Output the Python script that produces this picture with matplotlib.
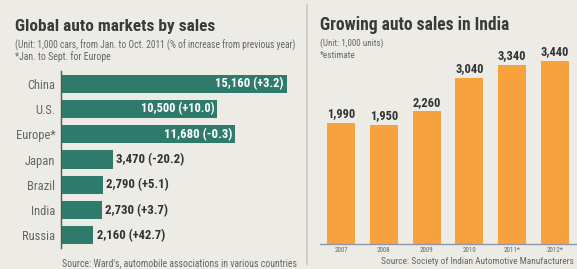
import matplotlib
matplotlib.use("Agg")
import matplotlib.pyplot as plt
from matplotlib import font_manager

# ---- data ----
countries = ["China", "U.S.", "Europe*", "Japan", "Brazil", "India", "Russia"]
sales = [15160, 10500, 11680, 3470, 2790, 2730, 2160]
changes = ["+3.2", "+10.0", "-0.3", "-20.2", "+5.1", "+3.7", "+42.7"]

years = ["2007", "2008", "2009", "2010", "2011*", "2012*"]
india_sales = [1990, 1950, 2260, 3040, 3340, 3440]

# ---- style ----
W, H = 577, 269
BG = "#ecebe5"
GREEN = "#2e7b6b"
ORANGE = "#f7a13f"
DARK = "#333333"
GRAY = "#666666"

names = {f.name for f in font_manager.fontManager.ttflist}
cands = ["Liberation Sans Narrow", "Roboto Condensed", "Open Sans Condensed",
         "DejaVu Sans"]
FAM = [c for c in cands if c in names][:1] + ["DejaVu Sans"]
plt.rcParams["font.family"] = FAM
plt.rcParams["font.stretch"] = "condensed"

fig = plt.figure(figsize=(W / 100, H / 100), dpi=100, facecolor=BG)
renderer = fig.canvas.get_renderer()


def fit(t, width_px, size):
    t.set_fontsize(size)
    w = t.get_window_extent(renderer).width
    if w > 0:
        t.set_fontsize(size * width_px / w)
    return t


def px_axes(x0, y0, x1, y1):
    return fig.add_axes([x0 / W, 1 - y1 / H, (x1 - x0) / W, (y1 - y0) / H])


def ftext(x, y, s, width, size=8, **kw):
    t = fig.text(x / W, 1 - y / H, s, va="center", **kw)
    fit(t, width, size)
    return t


# ---- left panel ----
axL = px_axes(61, 71, 300, 248)
axL.set_facecolor(BG)
ypos = list(range(len(countries)))
axL.barh(ypos, sales, height=0.72, color=GREEN)
axL.set_ylim(len(countries) - 0.5, -0.5)
axL.set_xlim(0, 16040)
axL.set_yticks(ypos)
axL.set_yticklabels(countries, color=GRAY, fontsize=9)
axL.tick_params(axis="y", length=0, pad=4)
axL.set_xticks([])
for s in ["top", "right", "bottom"]:
    axL.spines[s].set_visible(False)
axL.spines["left"].set_color("#555555")
axL.spines["left"].set_linewidth(1.0)
for i, (v, c) in enumerate(zip(sales, changes)):
    lab = f"{v:,} ({c})"
    if v > 8000:
        t = axL.text(v - 200, i, lab, ha="right", va="center", color="white",
                     fontweight="bold")
    else:
        t = axL.text(v + 250, i, lab, ha="left", va="center", color=DARK,
                     fontweight="bold")
    fit(t, 5.25 * len(lab), 8)

ftext(15, 27, "Global auto markets by sales", 198, 13.5,
      fontweight="bold", color="#3a3a3a")
ftext(15, 45, "(Unit: 1,000 cars, from Jan. to Oct. 2011 (% of increase from previous year)",
      280, 5.5, color=GRAY)
ftext(15, 57, "*Jan. to Sept. for Europe", 95, 5.5, color=GRAY)
ftext(297, 263, "Source: Ward's, automobile associations in various countries",
      235, 5.5, color=GRAY, ha="right")

# separator
fig.add_artist(plt.Line2D([307 / W, 307 / W], [0.02, 0.98], color="#c8c8c2",
                          linewidth=1.2))

# ---- right panel ----
BASE = -824
axR = px_axes(320, 40, 576, 244)
axR.set_facecolor(BG)
xpos = list(range(len(years)))
heights = [v - BASE for v in india_sales]
axR.bar(xpos, heights, bottom=BASE, width=0.66, color=ORANGE)
axR.set_xlim(-0.5, len(years) - 0.5)
axR.set_ylim(BASE, BASE + 204 / 0.043)
axR.set_yticks([])
axR.set_xticks(xpos)
axR.set_xticklabels(years, fontsize=5, color=GRAY)
axR.tick_params(axis="x", length=0, pad=2)
for s in ["top", "right", "left"]:
    axR.spines[s].set_visible(False)
axR.spines["bottom"].set_color("#8a9aa8")
axR.spines["bottom"].set_linewidth(1.0)
for i, v in enumerate(india_sales):
    t = axR.text(i, v + 60, f"{v:,}", ha="center", va="bottom", color=DARK,
                 fontweight="bold")
    fit(t, 28, 8.5)

ftext(320, 25, "Growing auto sales in India", 190, 13.5,
      fontweight="bold", color="#3a3a3a")
ftext(320, 43, "(Unit: 1,000 units)", 63, 5.5, color=GRAY)
ftext(320, 56, "*estimate", 35, 5.5, color=GRAY)
ftext(574, 262, "Source: Society of Indian Automotive Manufacturers",
      192, 5.5, color=GRAY, ha="right")

fig.savefig("out.png", dpi=100, facecolor=BG)
